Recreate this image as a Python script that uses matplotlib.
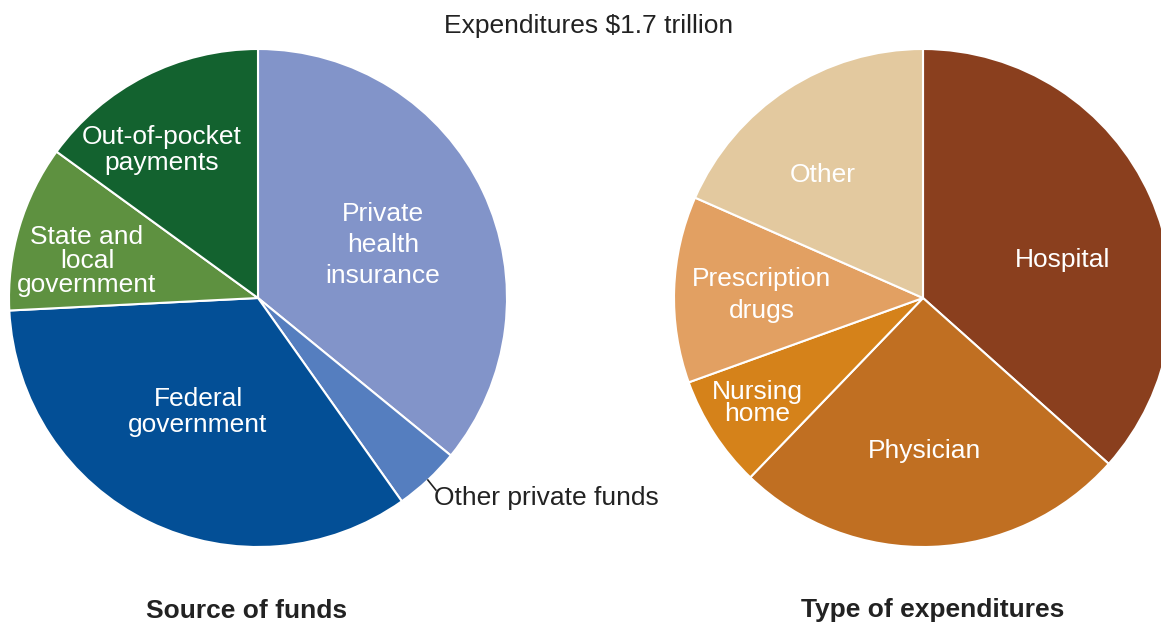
import matplotlib.pyplot as plt
import numpy as np

plt.rcParams['font.family'] = ['Liberation Sans', 'DejaVu Sans']

# shares of total, percent
fund_labels = ["Private\nhealth\ninsurance", "Other private funds", "Federal\ngovernment",
               "State and\nlocal\ngovernment", "Out-of-pocket\npayments"]
fund_values = [35.9, 4.3, 34.0, 10.8, 15.0]
fund_colors = ["#8294C9", "#557EBF", "#034F96", "#5E9140", "#13622F"]

exp_labels = ["Hospital", "Physician", "Nursing\nhome", "Prescription\ndrugs", "Other"]
exp_values = [36.6, 25.6, 7.3, 12.1, 18.4]
exp_colors = ["#8A3F1E", "#C06F22", "#D5821A", "#E2A062", "#E3C99F"]

W, H = 1161, 624
fig = plt.figure(figsize=(W / 100, H / 100), dpi=100)
ax = fig.add_axes([0, 0, 1, 1])

R = 249
c_left = (258, H - 298)
c_right = (923, H - 298)

wedge_kw = dict(edgecolor="white", linewidth=1.5)
w1, _ = ax.pie(fund_values, colors=fund_colors, startangle=90, counterclock=False,
               center=c_left, radius=R, frame=True, wedgeprops=wedge_kw)
w2, _ = ax.pie(exp_values, colors=exp_colors, startangle=90, counterclock=False,
               center=c_right, radius=R, frame=True, wedgeprops=wedge_kw)

ax.set_xlim(0, W)
ax.set_ylim(0, H)
ax.set_aspect("equal")
ax.axis("off")

fs = 19
dy = 2  # small nudge down, text sits a bit high with va=center
# (x, y from top, linespacing) for each label
fund_pos = [(383, 243, 1.37), None, (198, 410, 1.14), (87, 259, 0.98), (162, 148, 1.15)]
for lab, p in zip(fund_labels, fund_pos):
    if p is None:
        continue
    ax.text(p[0], H - p[1] - dy, lab, ha="center", va="center", color="white",
            fontsize=fs, linespacing=p[2])

exp_pos = [(1063, 258, 1.2), (925, 449, 1.2), (757, 401, 0.86), (762, 293, 1.39), (823, 173, 1.2)]
for lab, p in zip(exp_labels, exp_pos):
    ax.text(p[0], H - p[1] - dy, lab, ha="center", va="center", color="white",
            fontsize=fs, linespacing=p[2])

# leader line for the small wedge
wd = w1[1]
mid = np.deg2rad((wd.theta1 + wd.theta2) / 2)
x0 = c_left[0] + R * np.cos(mid)
y0 = c_left[1] + R * np.sin(mid)
ax.plot([x0, x0 + 8], [y0, y0 - 10], color="#222222", linewidth=1.2)
ax.text(434, H - 496 - dy, fund_labels[1], ha="left", va="center", color="#222222", fontsize=fs)

ax.text(589, H - 24 - dy, "Expenditures $1.7 trillion", ha="center", va="center",
        color="#222222", fontsize=fs)
ax.text(247, H - 609 - dy, "Source of funds", ha="center", va="center",
        color="#222222", fontsize=fs, fontweight="bold")
ax.text(933, H - 608 - dy, "Type of expenditures", ha="center", va="center",
        color="#222222", fontsize=fs, fontweight="bold")

fig.savefig("out.png", dpi=100, facecolor="white")
